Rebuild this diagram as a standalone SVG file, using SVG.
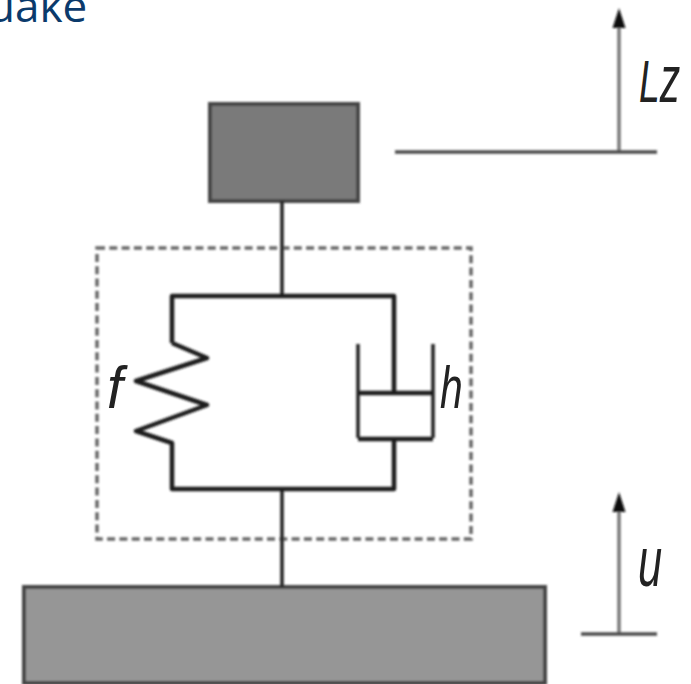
<svg xmlns="http://www.w3.org/2000/svg" width="691" height="684" viewBox="0 0 691 684">
<defs>
<marker id="arr" markerUnits="userSpaceOnUse" markerWidth="16" markerHeight="24" refX="7" refY="20" orient="0" viewBox="0 0 14 24"><path d="M7 0L13.500 20H0.500Z" fill="#111"/></marker>
<filter id="b" x="-5%" y="-5%" width="110%" height="110%"><feGaussianBlur stdDeviation="0.8"/></filter>
</defs>
<style>
.w{fill:none;stroke:#1c1c1c;stroke-width:4.500;stroke-linejoin:round}
.t{fill:none;stroke:#262626;stroke-width:3.600}
.g{fill:none;stroke:#777;stroke-width:3.500}
.h{fill:none;stroke:#4a4a4a;stroke-width:3.500}
.block{stroke:#454545;stroke-width:4}
.lab{font-family:"Liberation Sans",Arial,sans-serif;font-style:italic;fill:#222;font-size:60px}
</style>
<rect width="691" height="684" fill="#fff"/>
<text x="-12" y="22" font-family="Open Sans, sans-serif" font-size="44" fill="#0b3a6b">uake</text>
<g filter="url(#b)">
<g id="mass"><rect class="block" x="210" y="104" width="148" height="97" fill="#7a7a7a"/></g>
<g id="ground"><rect class="block" x="24" y="587" width="521" height="96" fill="#969696"/></g>
<g id="isolator"><rect x="97" y="248" width="374" height="291" fill="none" stroke="#666" stroke-width="3.500" stroke-dasharray="8 4.300"/></g>
<g id="connectors">
<path class="t" d="M282 201V296M282 489V587"/>
<path class="w" d="M172 343V296H394V391M172 343L207 358L136 381L207 405L136 431L172 443V489H394V440"/>
<path class="t" d="M358 344V438M433 344V438"/>
<path class="w" d="M358 393H433M358 439H433"/>
<path class="g" d="M619 152V28" marker-end="url(#arr)"/>
<path class="h" d="M395 152H657"/>
<path class="g" d="M619 634V512" marker-end="url(#arr)"/>
<path class="h" d="M581 634H657"/>
</g>
</g>
<g id="labels">
<text class="lab" transform="translate(107 408) scale(0.95 1)">f</text>
<text class="lab" transform="translate(440 408) scale(0.68 1)">h</text>
<text class="lab" transform="translate(639 102) scale(0.62 1)">L<tspan font-size="66">z</tspan></text>
<text class="lab" transform="translate(638 586) scale(0.62 1)" style="font-size:70px">u</text>
</g>
</svg>
